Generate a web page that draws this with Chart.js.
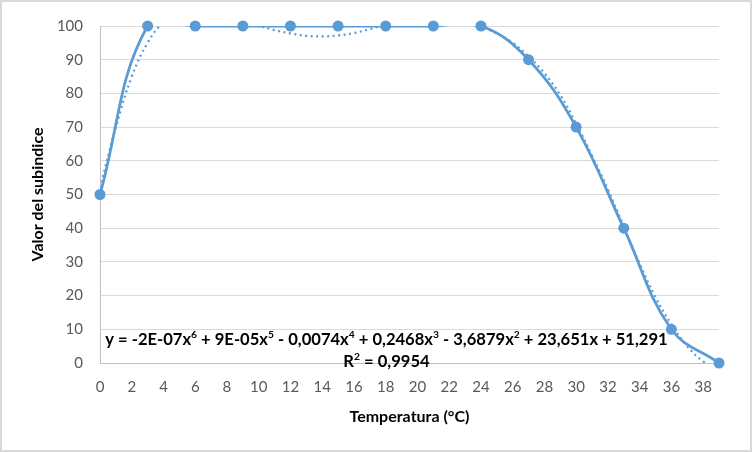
<!DOCTYPE html>
<html>
<head>
<meta charset="utf-8">
<script src="https://cdn.jsdelivr.net/npm/chart.js@4.4.1/dist/chart.umd.min.js"></script>
<style>
  html, body { margin: 0; padding: 0; background: #fff; }
</style>
</head>
<body>
<canvas id="chart" width="752" height="452"></canvas>
<script>
// measured points
const temperatures = [0, 3, 6, 9, 12, 15, 18, 21, 24, 27, 30, 33, 36, 39]
const subindexValues = [50, 100, 100, 100, 100, 100, 100, 100, 100, 90, 70, 40, 10, 0]

// poly trendline (6th order) at every degree
const trendTemps = [0, 1, 2, 3, 4, 5, 6, 7, 8, 9, 10, 11, 12, 13, 14, 15, 16, 17, 18, 19,
  20, 21, 22, 23, 24, 25, 26, 27, 28, 29, 30, 31, 32, 33, 34, 35, 36, 37, 38, 39]
const trendValues = [52, 70, 85, 95, 101, 103, 103.5, 103, 102, 100.8,
  100, 98.8, 97.8, 97.1, 96.9, 97.2, 97.9, 99.1, 100.3, 101,
  101.5, 101.6, 101.3, 100.7, 99.7, 97.8, 95, 91, 86, 79.5,
  71, 61.5, 51.5, 40.5, 29.5, 19.5, 11.5, 5, 0.5, -1.5]

const xTicks = [0, 2, 4, 6, 8, 10, 12, 14, 16, 18, 20, 22, 24, 26, 28, 30, 32, 34, 36, 38]
const yTicks = [0, 10, 20, 30, 40, 50, 60, 70, 80, 90, 100]

const BLUE = '#5B9BD5'
const FONT = 'Lato, "Open Sans", sans-serif'

// equation text, [text, isSuperscript]
const equationParts = [
  ['y = -2E-07x', false], ['6', true],
  [' + 9E-05x', false], ['5', true],
  [' - 0,0074x', false], ['4', true],
  [' + 0,2468x', false], ['3', true],
  [' - 3,6879x', false], ['2', true],
  [' + 23,651x + 51,291', false],
]
const r2Parts = [['R', false], ['2', true], [' = 0,9954', false]]

function richWidth(ctx, parts, size) {
  let total = 0
  parts.forEach(([t, sup]) => {
    ctx.font = 'bold ' + (sup ? size * 0.62 : size) + 'px ' + FONT
    total += ctx.measureText(t).width
  })
  return total
}

function drawRich(ctx, parts, cx, cy, size) {
  let x = cx - richWidth(ctx, parts, size) / 2
  ctx.textAlign = 'left'
  ctx.textBaseline = 'middle'
  ctx.fillStyle = '#000'
  parts.forEach(([t, sup]) => {
    ctx.font = 'bold ' + (sup ? size * 0.62 : size) + 'px ' + FONT
    ctx.fillText(t, x, sup ? cy - size * 0.3 : cy)
    x += ctx.measureText(t).width
  })
}

const frame = {
  id: 'frame',
  beforeDraw(chart) {
    const ctx = chart.ctx
    ctx.save()
    ctx.fillStyle = '#fff'
    ctx.fillRect(0, 0, chart.width, chart.height)
    ctx.strokeStyle = '#d9d9d9'
    ctx.lineWidth = 2
    ctx.strokeRect(1, 1, chart.width - 2, chart.height - 2)
    ctx.restore()
  },
}

const trendLabel = {
  id: 'trendLabel',
  afterDatasetsDraw(chart) {
    const { ctx, scales: { x, y } } = chart
    ctx.save()
    // fit the equation into the same span as the original label
    const target = x.getPixelForValue(35.7) - x.getPixelForValue(0.25)
    const size = 15 * target / richWidth(ctx, equationParts, 15)
    const cx = x.getPixelForValue(18.05)
    drawRich(ctx, equationParts, cx, y.getPixelForValue(6.9), size)
    drawRich(ctx, r2Parts, cx, y.getPixelForValue(0.5), size)
    ctx.restore()
  },
}

const seriesPoints = temperatures.map((t, i) => ({ x: t, y: subindexValues[i] }))

new Chart(document.getElementById('chart'), {
  type: 'line',
  data: {
    datasets: [
      {
        label: 'Polinómica',
        data: trendTemps.map((t, i) => ({ x: t, y: trendValues[i] })),
        borderColor: BLUE,
        borderWidth: 2.25,
        borderDash: [2, 3.5],
        pointRadius: 0,
        tension: 0.4,
        capBezierPoints: false,
        order: 1,
      },
      {
        // markers on their own so they are not clipped at 0 and 100
        label: 'markers',
        data: seriesPoints,
        showLine: false,
        pointRadius: 5.5,
        pointBorderWidth: 0,
        pointBackgroundColor: BLUE,
        clip: false,
        order: 0,
      },
      {
        label: 'Valor del subindice',
        data: seriesPoints,
        borderColor: BLUE,
        borderWidth: 2.75,
        pointRadius: 0,
        tension: 0.4,
        capBezierPoints: false,
        order: 2,
      },
    ],
  },
  options: {
    responsive: false,
    animation: false,
    layout: { padding: { top: 23, right: 33, bottom: 0, left: 0 } },
    plugins: {
      legend: { display: false },
      tooltip: { enabled: false },
    },
    scales: {
      x: {
        type: 'linear',
        min: 0,
        max: 39,
        afterBuildTicks: scale => { scale.ticks = xTicks.map(v => ({ value: v })) },
        afterFit: scale => { scale.height = 89 },
        grid: { drawOnChartArea: false, drawTicks: false },
        border: { color: '#bfbfbf', width: 1 },
        ticks: {
          autoSkip: false,
          maxRotation: 0,
          padding: 15,
          color: '#595959',
          font: { family: FONT, size: 15 },
        },
        title: {
          display: true,
          text: 'Temperatura (°C)',
          color: '#000',
          font: { family: FONT, size: 16, weight: 'bold' },
          padding: { top: 0, bottom: 26 },
        },
      },
      y: {
        min: 0,
        max: 100,
        afterBuildTicks: scale => { scale.ticks = yTicks.map(v => ({ value: v })) },
        afterFit: scale => { scale.width = 100 },
        grid: { color: '#d9d9d9', drawTicks: false },
        border: { color: '#bfbfbf', width: 1 },
        ticks: {
          padding: 17,
          color: '#595959',
          font: { family: FONT, size: 15 },
        },
        title: {
          display: true,
          text: 'Valor del subindice',
          color: '#000',
          font: { family: FONT, size: 16, weight: 'bold' },
          padding: { top: 28, bottom: 0 },
        },
      },
    },
  },
  plugins: [frame, trendLabel],
})
</script>
</body>
</html>
